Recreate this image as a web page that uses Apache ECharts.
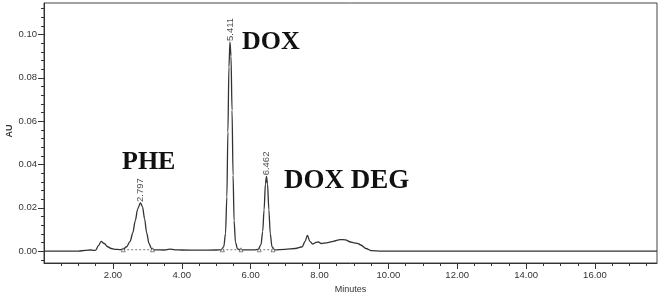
<!DOCTYPE html>
<html><head><meta charset="utf-8">
<script src="https://cdn.jsdelivr.net/npm/echarts@6/dist/echarts.min.js"></script>
<style>html,body{margin:0;padding:0;background:#fff}#c{width:661px;height:294px}</style>
</head><body><div id="c"></div>
<script>
// Chromatogram trace (minutes, AU)
const times = [0.00,1.00,1.20,1.35,1.45,1.50,1.58,1.66,1.75,1.85,1.95,2.05,2.20,2.30,2.40,2.50,2.58,2.65,2.72,2.80,2.86,2.92,2.98,3.05,3.12,3.20,3.50,3.65,3.80,4.00,4.50,5.00,5.15,5.22,5.27,5.31,5.34,5.37,5.40,5.43,5.46,5.49,5.52,5.56,5.62,5.70,5.90,6.10,6.22,6.30,6.35,6.39,6.43,6.46,6.49,6.53,6.57,6.62,6.70,7.00,7.30,7.50,7.58,7.65,7.72,7.80,7.90,7.97,8.05,8.20,8.40,8.60,8.75,8.90,9.00,9.10,9.20,9.35,9.50,9.80,12.00,17.80];
const au    = [0.0000,0.0000,0.0003,0.0005,0.0003,0.0004,0.0025,0.0045,0.0035,0.0020,0.0012,0.0008,0.0007,0.0009,0.0020,0.0045,0.0085,0.0140,0.0195,0.0222,0.0205,0.0150,0.0085,0.0035,0.0012,0.0006,0.0005,0.0009,0.0006,0.0005,0.0004,0.0005,0.0006,0.0020,0.0080,0.0250,0.0550,0.0850,0.0965,0.0900,0.0650,0.0350,0.0140,0.0040,0.0010,0.0006,0.0006,0.0006,0.0008,0.0030,0.0090,0.0190,0.0310,0.0345,0.0310,0.0190,0.0080,0.0020,0.0006,0.0008,0.0012,0.0020,0.0045,0.0072,0.0045,0.0032,0.0040,0.0042,0.0035,0.0038,0.0045,0.0053,0.0052,0.0042,0.0038,0.0036,0.0028,0.0012,0.0002,0.0000,0.0000,0.0000];
// Peaks with retention time labels
const peakTimes  = [2.797,5.411,6.462];
const peakHeights= [0.0222,0.0965,0.0345];
const peakLabels = ['2.797','5.411','6.462'];
// Integration start/end markers
const markerTimes = [2.30,3.15,5.18,5.72,6.25,6.65];
const markerAU    = [0.0006,0.0006,0.0006,0.0006,0.0006,0.0006];
// Axis ticks
const xMajorTicks = [2,4,6,8,10,12,14,16];
const xMinorTicks = [0.5,1,1.5,2.5,3,3.5,4.5,5,5.5,6.5,7,7.5,8.5,9,9.5,10.5,11,11.5,12.5,13,13.5,14.5,15,15.5,16.5,17,17.5];
const yMajorTicks = [0,0.02,0.04,0.06,0.08,0.10];
const yMinorTicks = [-0.004,0.004,0.008,0.012,0.016,0.024,0.028,0.032,0.036,0.044,0.048,0.052,0.056,0.064,0.068,0.072,0.076,0.084,0.088,0.092,0.096,0.104,0.108,0.112];
const annotations = ['PHE','DOX','DOX DEG'];
const yAxisTitle = 'AU';

const chart = echarts.init(document.getElementById('c'), null, {renderer:'canvas'});
const lblFont = {fontFamily:'Liberation Sans', fontSize:9.5, color:'#333'};
const X0 = {min:0, max:17.8};
const Y0 = {min:-0.0055, max:0.1145};
const pairs = (a,b)=>a.map((t,i)=>[t,b[i]]);
const segs = [];
for (let i=0;i<markerTimes.length;i+=2){
  segs.push({type:'line', xAxisIndex:0, yAxisIndex:0, silent:true, symbol:'none',
    data:[[markerTimes[i],markerAU[i]],[markerTimes[i+1],markerAU[i+1]]],
    lineStyle:{color:'#555', width:0.8, type:[2,2]}, z:1});
}
chart.setOption({
  animation:false,
  backgroundColor:'#fff',
  grid:{left:44, right:4, top:3, bottom:31, show:true, borderColor:'#444', borderWidth:1, containLabel:false, outerBoundsMode:'none'},
  xAxis:[
    {type:'value', ...X0, position:'bottom',
     name:'Minutes', nameLocation:'middle', nameGap:22,
     nameTextStyle:{fontFamily:'Liberation Sans', fontSize:9, color:'#333'},
     axisLine:{show:true, onZero:false, lineStyle:{color:'#333', width:1}},
     axisTick:{show:true, customValues:xMajorTicks, length:6, lineStyle:{color:'#333'}},
     axisLabel:{show:true, customValues:xMajorTicks, margin:7, formatter:v=>v.toFixed(2), ...lblFont},
     splitLine:{show:false}},
    {type:'value', ...X0, position:'bottom',
     axisLine:{show:false, onZero:false},
     axisTick:{show:true, customValues:xMinorTicks, length:3, lineStyle:{color:'#333'}},
     axisLabel:{show:false}, splitLine:{show:false}}
  ],
  yAxis:[
    {type:'value', ...Y0, position:'left',
     axisLine:{show:true, onZero:false, lineStyle:{color:'#333', width:1}},
     axisTick:{show:true, customValues:yMajorTicks, length:6, lineStyle:{color:'#333'}},
     axisLabel:{show:true, customValues:yMajorTicks, margin:7, formatter:v=>v.toFixed(2), ...lblFont},
     splitLine:{show:false}},
    {type:'value', ...Y0, position:'left',
     axisLine:{show:false, onZero:false},
     axisTick:{show:true, customValues:yMinorTicks, length:3, lineStyle:{color:'#333'}},
     axisLabel:{show:false}, splitLine:{show:false}}
  ],
  series:[
    {type:'line', xAxisIndex:0, yAxisIndex:0, data:pairs(times,au), symbol:'none',
     smooth:0.3, smoothMonotone:'x', lineStyle:{color:'#333', width:1.3}, z:3},
    ...segs,
    {type:'scatter', xAxisIndex:0, yAxisIndex:0, data:pairs(markerTimes,markerAU),
     symbol:'triangle', symbolSize:4, itemStyle:{color:'#fff', borderColor:'#444', borderWidth:0.8}, z:4},
    {type:'scatter', xAxisIndex:0, yAxisIndex:0,
     data:peakTimes.map((t,i)=>({value:[t,peakHeights[i]], name:peakLabels[i]})),
     symbolSize:0,
     label:{show:true, position:'top', distance:1, rotate:90, align:'left', verticalAlign:'middle',
            formatter:p=>p.name, fontFamily:'Liberation Sans', fontSize:9.5, color:'#222'}, z:5}
  ],
  graphic:[
    {type:'text', x:10, y:131, rotation:Math.PI/2,
     style:{text:yAxisTitle, font:'bold 9px "Liberation Sans"', fill:'#333', align:'center', verticalAlign:'middle'}},
    {type:'text', left:122, top:149, style:{text:annotations[0], font:'bold 26px "Liberation Serif"', fill:'#111'}},
    {type:'text', left:242, top:29, style:{text:annotations[1], font:'bold 26px "Liberation Serif"', fill:'#111'}},
    {type:'text', left:284, top:168, style:{text:annotations[2], font:'bold 27px "Liberation Serif"', fill:'#111'}}
  ]
});
</script></body></html>
